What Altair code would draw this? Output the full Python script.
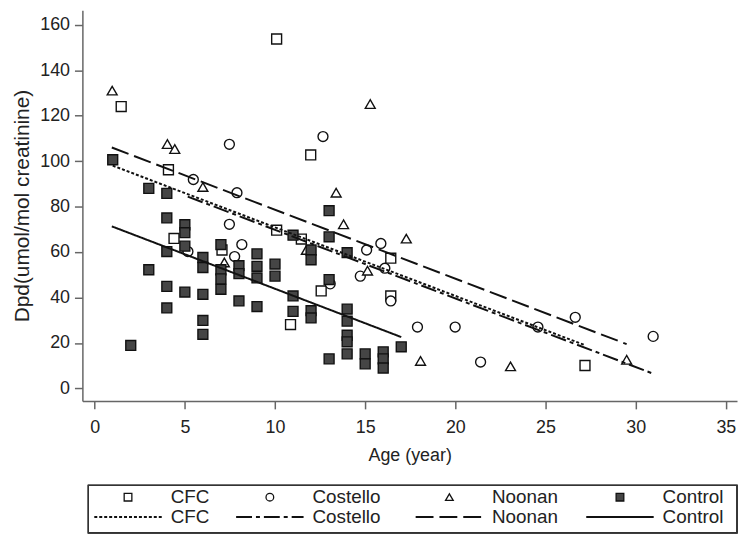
import altair as alt
import pandas as pd

# ---- data ----
cfc_age = [1.47, 10.09, 11.98, 4.09, 4.4, 7.06, 10.09, 11.46, 10.86, 12.56, 16.42, 16.42, 27.19]
cfc_dpd = [124, 153.7, 102.7, 96.2, 66.0, 60.9, 69.6, 65.7, 28.1, 42.9, 57.3, 40.7, 10.1]

costello_age = [5.47, 7.47, 12.66, 7.89, 7.47, 8.16, 7.76, 5.17, 13.06, 15.87, 15.08, 16.09,
                14.73, 16.42, 17.9, 19.99, 21.4, 24.58, 26.65, 30.97]
costello_dpd = [91.9, 107.4, 110.8, 86.1, 72.2, 63.3, 58.0, 60.2, 46.0, 63.8, 60.9, 52.9,
                49.4, 38.5, 27.0, 27.0, 11.6, 27.0, 31.3, 22.9]

noonan_age = [0.97, 4.03, 4.44, 6.0, 7.19, 11.74, 13.39, 13.8, 15.28, 15.13, 17.28, 18.07, 23.06, 29.5]
noonan_dpd = [131, 107.5, 105.3, 88.6, 55.4, 60.9, 86.1, 72.2, 125.1, 51.8, 65.9, 12.1, 9.7, 12.6]

control_age = [1, 2, 3, 3, 4, 4, 4, 4, 4, 5, 5, 5, 5, 6, 6, 6, 6, 6, 7, 7, 7, 7,
               8, 8, 8, 9, 9, 9, 9, 10, 10, 11, 11, 11, 12, 12, 12, 12, 13, 13, 13, 13,
               14, 14, 14, 14, 14, 14, 15, 15, 16, 16, 16, 17]
control_dpd = [100.6, 18.9, 88.0, 52.2, 85.8, 75.0, 60.2, 44.9, 35.4, 72.0, 68.5, 62.6, 42.4,
               57.6, 53.2, 41.4, 29.9, 23.8, 63.3, 52.2, 48.2, 43.6, 54.0, 50.5, 38.5,
               59.2, 53.7, 48.6, 36.0, 54.7, 49.4, 67.4, 40.7, 33.9, 60.9, 56.6, 34.2, 31.0,
               78.2, 66.7, 47.9, 13.0, 59.7, 34.9, 29.6, 23.4, 20.5, 15.2, 15.2, 10.8,
               16.1, 13.0, 9.0, 18.3]

groups = ["CFC", "Costello", "Noonan", "Control"]
# fitted lines: start/end age and fitted value at those ages
fit_age_start = [1.0, 5.16, 0.95, 0.95]
fit_age_end = [27.2, 31.0, 29.5, 17.0]
fit_val_start = [98.0, 84.4, 106.0, 71.3]
fit_val_end = [19.0, 6.4, 19.5, 22.6]

x_ticks = [0, 5, 10, 15, 20, 25, 30, 35]
y_ticks = [0, 20, 40, 60, 80, 100, 120, 140, 160]

# ---- tables ----
pts = pd.concat([
    pd.DataFrame({"age": cfc_age, "dpd": cfc_dpd, "group": "CFC"}),
    pd.DataFrame({"age": costello_age, "dpd": costello_dpd, "group": "Costello"}),
    pd.DataFrame({"age": noonan_age, "dpd": noonan_dpd, "group": "Noonan"}),
    pd.DataFrame({"age": control_age, "dpd": control_dpd, "group": "Control"}),
], ignore_index=True)

fit_rows = []
for g, a0, a1, v0, v1 in zip(groups, fit_age_start, fit_age_end, fit_val_start, fit_val_end):
    fit_rows.append({"group": g, "age": a0, "dpd": v0})
    fit_rows.append({"group": g, "age": a1, "dpd": v1})
fits = pd.DataFrame(fit_rows)

# ---- styles ----
FONT = "Liberation Sans"
shape_range = ["square", "circle", "triangle-up", "square"]
fill_range = ["white", "white", "white", "#454545"]
size_range = [100, 100, 115, 100]
dash_range = [[3, 2], [16, 4, 4, 4], [18, 6], [1, 0]]
AX = "#666666"

PLOT_W, PLOT_H = 660, 394
xscale = alt.Scale(domain=[-0.682, 35.62], nice=False, zero=False)
yscale = alt.Scale(domain=[-5.5, 166.4], nice=False, zero=False)

x_enc = alt.X("age:Q", scale=xscale,
              axis=alt.Axis(values=x_ticks, title="Age (year)", grid=False, tickSize=8,
                            labelFontSize=18, titleFontSize=18, labelPadding=10, titlePadding=10,
                            titleFontWeight="normal", labelFont=FONT, titleFont=FONT,
                            domainColor=AX, tickColor=AX, labelColor="#222", titleColor="#222",
                            domainWidth=1.5, tickWidth=1.5))
y_enc = alt.Y("dpd:Q", scale=yscale,
              axis=alt.Axis(values=y_ticks, title="Dpd(umol/mol creatinine)", grid=False, tickSize=8,
                            labelFontSize=18, titleFontSize=21, labelPadding=5, titlePadding=7,
                            titleFontWeight="normal", labelFont=FONT, titleFont=FONT,
                            domainColor=AX, tickColor=AX, labelColor="#222", titleColor="#222",
                            domainWidth=1.5, tickWidth=1.5))

points = alt.Chart(pts).mark_point(strokeWidth=1.4, opacity=1, stroke="#111").encode(
    x=x_enc, y=y_enc,
    shape=alt.Shape("group:N", scale=alt.Scale(domain=groups, range=shape_range), legend=None),
    fill=alt.Fill("group:N", scale=alt.Scale(domain=groups, range=fill_range), legend=None),
    size=alt.Size("group:N", scale=alt.Scale(domain=groups, range=size_range), legend=None),
)

lines = alt.Chart(fits).mark_line(color="#111", strokeWidth=2).encode(
    x="age:Q", y="dpd:Q",
    detail="group:N",
    strokeDash=alt.StrokeDash("group:N", scale=alt.Scale(domain=groups, range=dash_range), legend=None),
)

plot = alt.layer(points, lines).properties(width=PLOT_W, height=PLOT_H)

# ---- legend box (drawn as its own small chart, aligned with the plot area) ----
LEG_W, LEG_H = 660, 48
BOX_L, BOX_R = 6, 660                # layout: frame edges inside the legend view
label_x = [89, 232, 413, 585]        # layout: label start inside the legend view
ROW1, ROW2 = 12, 32
leg = pd.DataFrame({
    "group": groups,
    "lx": label_x,
    "kx": [v - 43 for v in label_x],
    "k1": [v - 77 for v in label_x],
    "k2": [v - 9 for v in label_x],
    "r1": [ROW1] * 4,
    "r2": [ROW2] * 4,
})
lxs = alt.Scale(domain=[0, LEG_W], range=[0, LEG_W], nice=False, zero=False)
lys = alt.Scale(domain=[0, LEG_H], range=[0, LEG_H], nice=False, zero=False)

frame = alt.Chart(leg).mark_rect(fill=None, fillOpacity=0, stroke="#333", strokeWidth=1.2).encode(
    x=alt.value(BOX_L), x2=alt.value(BOX_R), y=alt.value(0), y2=alt.value(LEG_H))

leg_sym = alt.Chart(leg).mark_point(size=60, strokeWidth=1.3, opacity=1, stroke="#111").encode(
    x=alt.X("kx:Q", scale=lxs, axis=None),
    y=alt.Y("r1:Q", scale=lys, axis=None),
    shape=alt.Shape("group:N", scale=alt.Scale(domain=groups, range=shape_range), legend=None),
    fill=alt.Fill("group:N", scale=alt.Scale(domain=groups, range=fill_range), legend=None),
)
leg_line = alt.Chart(leg).mark_rule(color="#111", strokeWidth=2).encode(
    x=alt.X("k1:Q", scale=lxs, axis=None), x2="k2:Q",
    y=alt.Y("r2:Q", scale=lys, axis=None),
    strokeDash=alt.StrokeDash("group:N", scale=alt.Scale(domain=groups, range=dash_range), legend=None),
)
leg_t1 = alt.Chart(leg).mark_text(align="left", baseline="middle", fontSize=19, font=FONT, color="#222").encode(
    x=alt.X("lx:Q", scale=lxs, axis=None), y=alt.Y("r1:Q", scale=lys, axis=None), text="group:N")
leg_t2 = alt.Chart(leg).mark_text(align="left", baseline="middle", fontSize=19, font=FONT, color="#222").encode(
    x=alt.X("lx:Q", scale=lxs, axis=None), y=alt.Y("r2:Q", scale=lys, axis=None), text="group:N")

legend = alt.layer(frame, leg_sym, leg_line, leg_t1, leg_t2).properties(
    width=LEG_W, height=LEG_H
)

chart = alt.vconcat(plot, legend, spacing=20).properties(
    padding={"left": 3, "top": 0, "right": 0, "bottom": 0},
    background="white",
).configure_view(stroke=None)

chart.save("out.html", embed_options={"renderer": "svg", "actions": False})
